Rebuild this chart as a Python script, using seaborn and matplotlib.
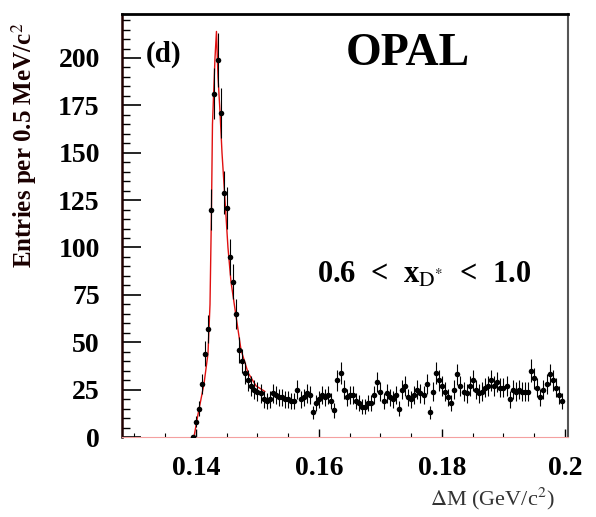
import numpy as np
import pandas as pd
import matplotlib
matplotlib.use("Agg")
import matplotlib.pyplot as plt
import seaborn as sns
from matplotlib.ticker import MultipleLocator, FixedLocator, FixedFormatter

# ---- data ----
bin_start = 0.1395
bin_width = 0.0005
counts = [
    0, 8, 15, 28, 44, 57, 120, 181, 199, 171,
    129, 121, 95, 82, 65, 46, 40, 34, 30, 27,
    25, 24, 23, 20, 19, 20, 23, 22, 21, 21,
    20, 20, 19, 19, 25, 20, 21, 23, 22, 13,
    18, 20, 22, 21, 22, 19, 14, 30, 34, 25,
    21, 22, 22, 19, 18, 16, 16, 18, 18, 22,
    29, 24, 19, 23, 21, 20, 22, 15, 25, 27,
    21, 20, 22, 25, 23, 22, 28, 13, 24, 34,
    30, 27, 24, 21, 18, 25, 33, 27, 24, 23,
    27, 30, 25, 23, 24, 26, 27, 30, 27, 29,
    26, 26, 27, 20, 25, 24, 25, 24, 24, 24,
    35, 31, 26, 21, 25, 28, 33, 30, 26, 22,
    19,
]
fit_x = [0.13967, 0.14033, 0.1413, 0.14195, 0.14228, 0.14252, 0.14268,
         0.14309, 0.14333, 0.14358, 0.1439, 0.14423, 0.14472, 0.1452,
         0.14569, 0.1465, 0.14732, 0.14846, 0.14976, 0.15122]
fit_y = [0, 12, 28, 44, 70, 120, 165, 200, 214, 190, 172, 150, 125, 100,
         82, 64, 46, 34, 27, 24]

xtick_vals = [0.14, 0.16, 0.18, 0.2]
xtick_labels = ["0.14", "0.16", "0.18", "0.2"]
ytick_vals = [0, 25, 50, 75, 100, 125, 150, 175, 200]

centers = bin_start + bin_width * np.arange(len(counts))
df = pd.DataFrame({"dm": centers, "n": counts})
df["err"] = np.sqrt(df["n"])
fit_df = pd.DataFrame({"dm": fit_x, "f": fit_y})

# ---- style ----
sns.set_theme(style="ticks")
plt.rcParams["font.family"] = ["Liberation Serif", "DejaVu Serif"]
plt.rcParams["mathtext.fontset"] = "stix"

fig = plt.figure(figsize=(5.96, 5.17), dpi=100)
ax = fig.add_axes([0.2047, 0.1547, 0.7483, 0.8182])

sns.lineplot(data=fit_df, x="dm", y="f", ax=ax, color="#e01010",
             linewidth=1.0, zorder=2, legend=False)
ax.errorbar(df["dm"], df["n"], yerr=df["err"], fmt="none",
            ecolor="black", elinewidth=0.8, capsize=0, zorder=3)
sns.scatterplot(data=df, x="dm", y="n", ax=ax, color="black", s=16,
                edgecolor="black", linewidth=0, zorder=4, legend=False)

ax.set_xlim(0.12797, 0.20049)
ax.set_ylim(0, 223.2)

ax.xaxis.set_major_locator(FixedLocator(xtick_vals))
ax.xaxis.set_major_formatter(FixedFormatter(xtick_labels))
ax.xaxis.set_minor_locator(MultipleLocator(0.005))
ax.yaxis.set_major_locator(FixedLocator(ytick_vals))
ax.yaxis.set_minor_locator(MultipleLocator(5))

ax.tick_params(axis="both", which="both", direction="in", top=False, right=False,
               colors="black", labelsize=20)
ax.tick_params(axis="y", which="major", length=14, width=1.2, pad=16)
ax.tick_params(axis="y", which="minor", length=6, width=1.0)
ax.tick_params(axis="x", which="major", length=6, width=1.0, pad=14)
ax.tick_params(axis="x", which="minor", length=3, width=0.8)
for lab in ax.get_xticklabels() + ax.get_yticklabels():
    lab.set_fontweight("bold")

ax.spines["top"].set_linewidth(2.0)
ax.spines["top"].set_color("black")
ax.spines["left"].set_linewidth(1.8)
ax.spines["left"].set_color("#200000")
ax.spines["right"].set_linewidth(1.5)
ax.spines["right"].set_color("#555555")
ax.spines["bottom"].set_linewidth(0.8)
ax.spines["bottom"].set_color("#f4a0a0")

ax.set_ylabel("Entries per 0.5 MeV/c$^2$", fontsize=18, fontweight="bold",
              color="#1a0000")
ax.yaxis.set_label_coords(-0.185, 0.69)
ax.set_xlabel(r"$\Delta$M (GeV/c$^2$)", fontsize=16, color="#333333")
ax.xaxis.set_label_coords(0.83, -0.115)

ax.text(0.053, 0.905, "(d)", transform=ax.transAxes, fontsize=21,
        fontweight="bold", color="black", ha="left", va="center")
ax.text(0.64, 0.905, "OPAL", transform=ax.transAxes, fontsize=33,
        fontweight="bold", color="black", ha="center", va="center")
ax.text(0.677, 0.383, r"0.6  <  x$_{\mathrm{D}^{*}}$  <  1.0", transform=ax.transAxes,
        fontsize=22, fontweight="bold", color="black", ha="center", va="center")

fig.savefig("out.png", dpi=100)
